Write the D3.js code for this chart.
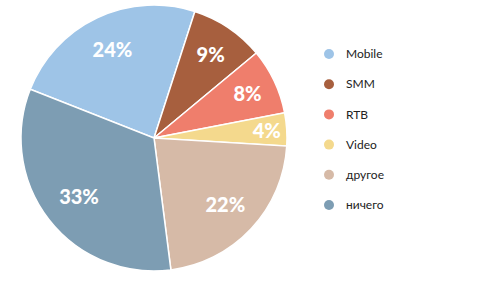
<!DOCTYPE html>
<html>
<head>
<meta charset="utf-8">
<script src="https://cdn.jsdelivr.net/npm/d3@7"></script>
<style>
  body { margin: 0; background: #fff; }
  svg { display: block; }
</style>
</head>
<body>
<div id="chart"></div>
<script>
const categories = ["Mobile", "SMM", "RTB", "Video", "другое", "ничего"];
const shares = [24, 9, 8, 4, 22, 33];
const colors = ["#9ec4e7", "#a75f3e", "#ef7e6c", "#f4d98d", "#d6baa7", "#7d9db3"];

const width = 479, height = 282;
const cx = 154, cy = 138, radius = 133;

const svg = d3.select("#chart")
  .append("svg")
  .attr("width", width)
  .attr("height", height);

const data = categories.map((c, i) => ({ name: c, value: shares[i], color: colors[i] }));

// Mobile slice begins at roughly -68.5 degrees (clockwise from 12 o'clock)
const pie = d3.pie()
  .sort(null)
  .value((d) => d.value)
  .startAngle(-68.5 * Math.PI / 180)
  .endAngle((360 - 68.5) * Math.PI / 180);

const arc = d3.arc().innerRadius(0).outerRadius(radius);

// small slices get their label pushed further out
const labelR = d3.scaleLinear().domain([4, 9, 33]).range([113, 101, 95]).clamp(true);

const g = svg.append("g").attr("transform", `translate(${cx},${cy})`);

const arcs = pie(data);

g.selectAll("path.slice")
  .data(arcs)
  .join("path")
  .attr("class", "slice")
  .attr("d", arc)
  .attr("fill", (d) => d.data.color)
  .attr("stroke", "#fff")
  .attr("stroke-width", 1.5);

g.selectAll("text.pct")
  .data(arcs)
  .join("text")
  .attr("class", "pct")
  .attr("transform", (d) => {
    const r = labelR(d.data.value);
    const a = (d.startAngle + d.endAngle) / 2;
    return `translate(${r * Math.sin(a)},${-r * Math.cos(a)})`;
  })
  .attr("text-anchor", "middle")
  .attr("dy", "0.36em")
  .style("font-family", "Lato, 'Open Sans', sans-serif")
  .style("font-weight", 900)
  .style("font-size", "20px")
  .style("fill", "#fff")
  .text((d) => d.data.value + "%");

// Legend
const legendY = d3.scalePoint().domain(categories).range([54, 205]);

const legend = svg.append("g").attr("class", "legend");

const items = legend.selectAll("g.item")
  .data(data)
  .join("g")
  .attr("class", "item")
  .attr("transform", (d) => `translate(329,${legendY(d.name)})`);

items.append("circle")
  .attr("r", 5)
  .attr("fill", (d) => d.color);

items.append("text")
  .attr("x", 17)
  .attr("dy", "0.35em")
  .style("font-family", "Lato, 'Noto Sans', sans-serif")
  .style("font-size", "12px")
  .style("fill", "#222")
  .text((d) => d.name);
</script>
</body>
</html>
